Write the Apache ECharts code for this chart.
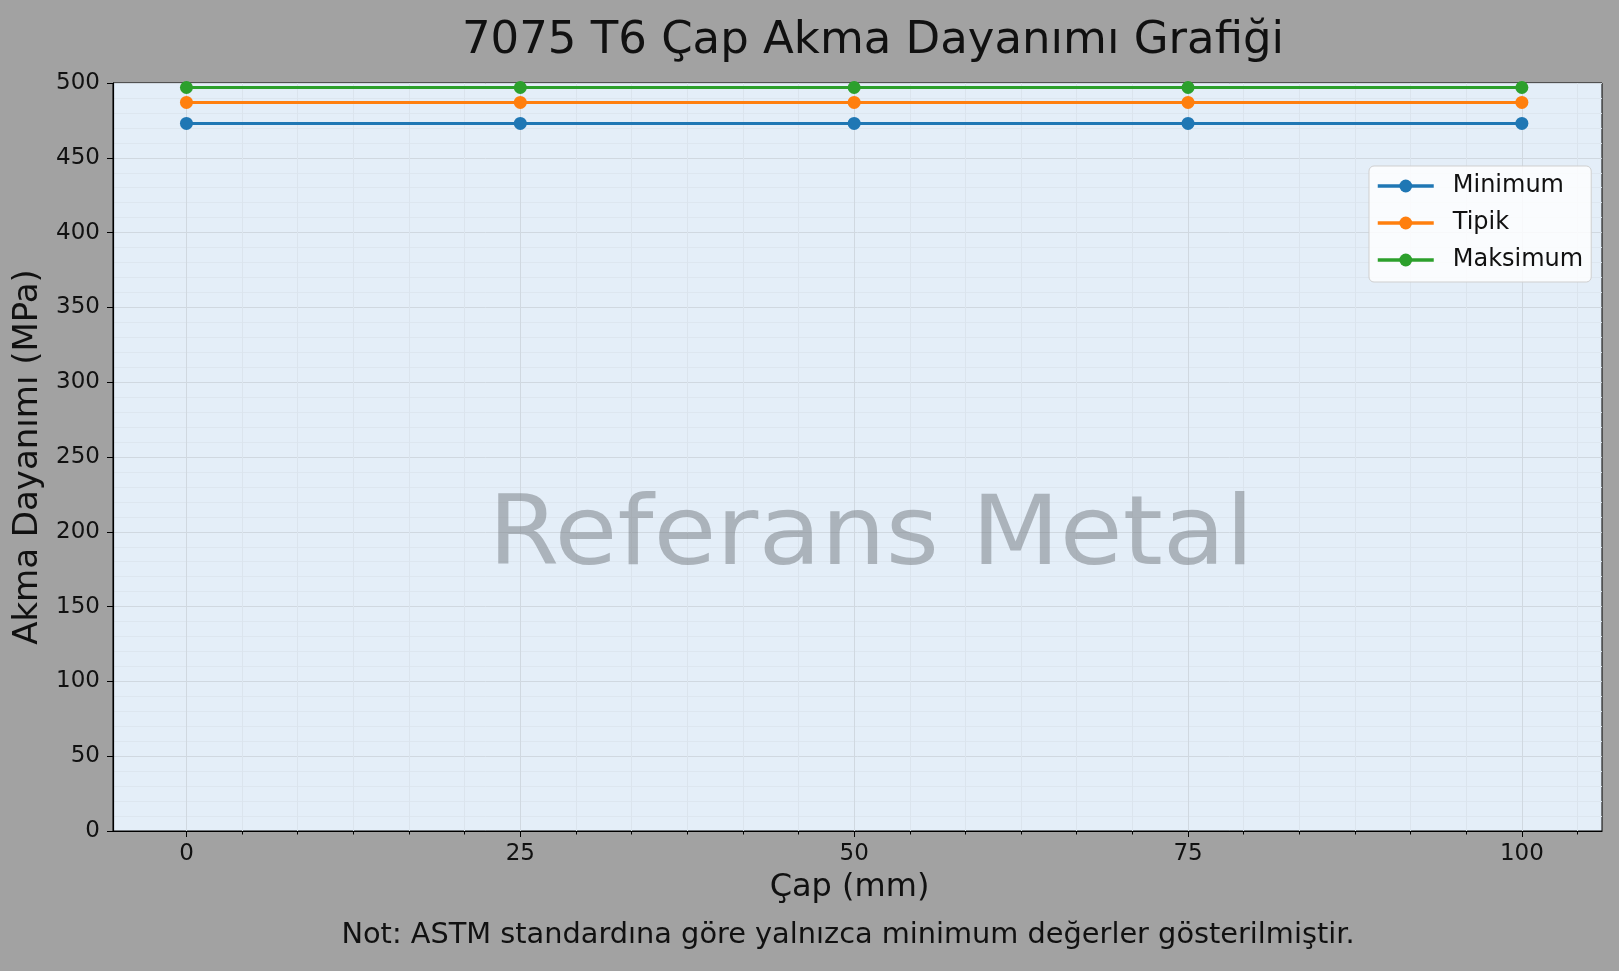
<!DOCTYPE html>
<html>
<head>
<meta charset="utf-8">
<script src="https://cdn.jsdelivr.net/npm/echarts@6/dist/echarts.min.js"></script>
<style>
html,body{margin:0;padding:0;background:#a2a2a2;}
#c{width:1619px;height:971px;}
</style>
</head>
<body>
<div id="c"></div>
<script>
// ---- data ----
const DIAMETERS = [0, 25, 50, 75, 100];
const MINIMUM = [473, 473, 473, 473, 473];
const TIPIK = [487, 487, 487, 487, 487];
const MAKSIMUM = [497, 497, 497, 497, 497];
const SERIES_NAMES = ['Minimum', 'Tipik', 'Maksimum'];
const X_TICKS = [0, 25, 50, 75, 100];
const TITLE = '7075 T6 Çap Akma Dayanımı Grafiği';
const NOTE = 'Not: ASTM standardına göre yalnızca minimum değerler gösterilmiştir.';
const WATERMARK = 'Referans Metal';

// minor tick positions (every 25/6 along x)
const X_MINOR = [];
for (let k = 1; k <= 25; k++) { if (k % 6 !== 0) X_MINOR.push(k * 25 / 6); }

const FONT = 'DejaVu Sans';
const COLORS = ['#1f77b4', '#ff7f0e', '#2ca02c'];
const pairs = vals => DIAMETERS.map((d, i) => [d, vals[i]]);

const chart = echarts.init(document.getElementById('c'), null, {renderer: 'canvas'});
const mkSeries = (name, vals, color) => ({
  name, type: 'line', data: pairs(vals), xAxisIndex: 0,
  symbol: 'circle', symbolSize: 13, showSymbol: true,
  lineStyle: {width: 3, color}, itemStyle: {color},
  emphasis: {disabled: true}, animation: false, z: 3
});

chart.setOption({
  backgroundColor: '#a2a2a2',
  animation: false,
  textStyle: {fontFamily: FONT},
  grid: {left: 113, right: 17, top: 83, bottom: 140, show: true,
         backgroundColor: '#e4eef8', borderColor: '#000', borderWidth: 1},
  legend: {
    orient: 'vertical', left: 1369, top: 166,
    data: SERIES_NAMES,
    backgroundColor: 'rgba(255,255,255,0.82)', borderColor: '#cfcfcf', borderWidth: 1,
    borderRadius: 5, padding: [6, 8, 8, 7],
    itemWidth: 56, itemHeight: 16, itemGap: 9,
    lineStyle: {width: 3.5},
    textStyle: {fontSize: 24, fontFamily: FONT, color: '#111', lineHeight: 28, padding: [0, 0, 0, 14]}
  },
  xAxis: [{
    type: 'value', min: -5.5, max: 106,
    axisLine: {show: true, onZero: false, lineStyle: {color: '#000', width: 1.2}},
    axisTick: {show: true, length: 6, customValues: X_TICKS, lineStyle: {color: '#000', width: 1}},
    axisLabel: {customValues: X_TICKS, margin: 12, fontSize: 23, color: '#111', fontFamily: FONT},
    splitLine: {show: true, lineStyle: {color: '#d0d8e0', width: 1}},
    name: 'Çap (mm)', nameLocation: 'middle', nameGap: 41,
    nameTextStyle: {fontSize: 32, color: '#111', fontFamily: FONT, padding: [0, 16, 0, 0]}
  }, {
    type: 'value', min: -5.5, max: 106, position: 'bottom',
    axisLine: {show: false, onZero: false},
    axisTick: {show: true, length: 3.5, customValues: X_MINOR, lineStyle: {color: '#000', width: 1}},
    axisLabel: {show: false},
    splitLine: {show: true, lineStyle: {color: '#dbe4ed', width: 1}}
  }],
  yAxis: {
    type: 'value', min: 0, max: 500, interval: 50,
    axisLine: {show: true, onZero: false, lineStyle: {color: '#000', width: 1.2}},
    axisTick: {show: true, length: 6, lineStyle: {color: '#000'}},
    axisLabel: {margin: 13, fontSize: 23, color: '#111', fontFamily: FONT},
    splitLine: {show: true, lineStyle: {color: '#d0d8e0', width: 1}},
    minorTick: {show: false, splitNumber: 5},
    minorSplitLine: {show: true, lineStyle: {color: '#dde6ef', width: 1}},
    name: 'Akma Dayanımı (MPa)', nameLocation: 'middle', nameGap: 62,
    nameTextStyle: {fontSize: 34, color: '#111', fontFamily: FONT}
  },
  graphic: [
    {type: 'text', x: 873, y: 41, z: 10,
     style: {text: TITLE, font: '45px "DejaVu Sans"', fill: '#111', align: 'center', verticalAlign: 'middle'}},
    {type: 'text', x: 848, y: 936, z: 10,
     style: {text: NOTE, font: '28.8px "DejaVu Sans"', fill: '#111', align: 'center', verticalAlign: 'middle'}},
    {type: 'text', x: 871, y: 539, z: 1, scaleX: 1.054,
     style: {text: WATERMARK, font: '97px "DejaVu Sans"', fill: 'rgba(118,124,130,0.52)', align: 'center', verticalAlign: 'middle'}}
  ],
  series: [
    mkSeries(SERIES_NAMES[0], MINIMUM, COLORS[0]),
    mkSeries(SERIES_NAMES[1], TIPIK, COLORS[1]),
    mkSeries(SERIES_NAMES[2], MAKSIMUM, COLORS[2])
  ]
});
</script>
</body>
</html>
